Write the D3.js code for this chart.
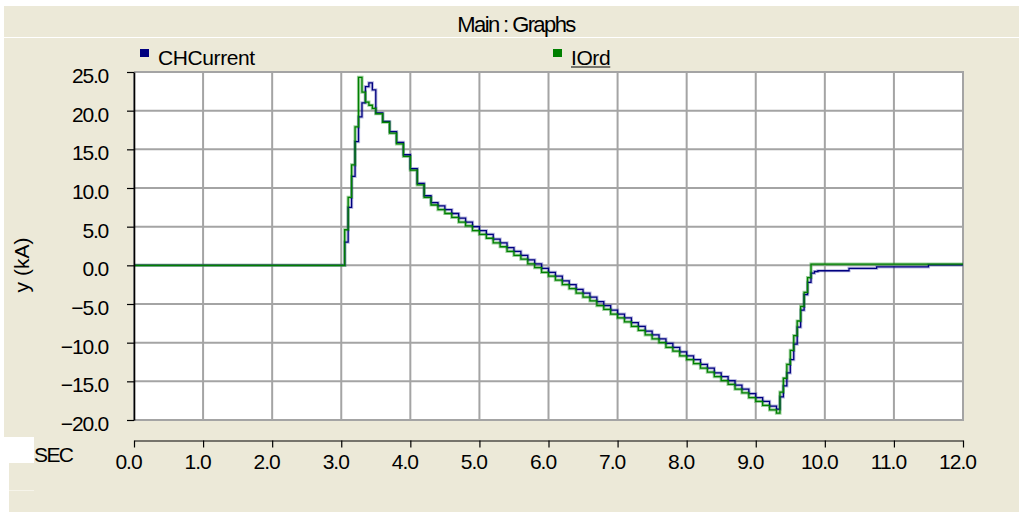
<!DOCTYPE html>
<html>
<head>
<meta charset="utf-8">
<script src="https://cdn.jsdelivr.net/npm/d3@7"></script>
<style>
  html, body { margin: 0; padding: 0; background: #ffffff; }
  svg { display: block; font-family: "Liberation Sans", Arial, sans-serif; }
</style>
</head>
<body>
<svg id="chart" width="1019" height="512"></svg>
<script>
// ---------------- data ----------------
const times = [
  0, 3.0, 3.05, 3.1, 3.15, 3.2, 3.25, 3.3, 3.35, 3.4, 3.45, 3.5,
  3.6, 3.7, 3.8, 3.9, 4.0, 4.1, 4.2, 4.3,
  4.4, 4.5, 4.6, 4.7, 4.8, 4.9, 5.0, 5.1, 5.2, 5.3, 5.4, 5.5, 5.6, 5.7, 5.8, 5.9,
  6.0, 6.1, 6.2, 6.3, 6.4, 6.5, 6.6, 6.7, 6.8, 6.9, 7.0, 7.1, 7.2, 7.3, 7.4, 7.5,
  7.6, 7.7, 7.8, 7.9, 8.0, 8.1, 8.2, 8.3, 8.4, 8.5, 8.6, 8.7, 8.8, 8.9, 9.0, 9.1,
  9.2, 9.3,
  9.35, 9.4, 9.45, 9.5, 9.55, 9.6, 9.65, 9.7, 9.75, 9.8, 9.85, 9.9,
  10.35, 10.75, 11.5, 12.0
];
const chCurrent = [
  0, 0, 3.0, 7.5, 11.5, 16.0, 19.2, 21.0, 23.1, 23.6, 22.7, 19.7,
  18.6, 17.3, 15.9, 14.3, 12.5, 10.6, 9.0, 8.1,
  7.7, 7.2, 6.7, 6.1, 5.6, 5.0, 4.5, 4.0, 3.4, 2.9, 2.3, 1.8, 1.3, 0.7, 0.2, -0.4,
  -0.9, -1.4, -2.0, -2.5, -3.1, -3.6, -4.1, -4.7, -5.2, -5.8, -6.3, -6.8, -7.4, -7.9, -8.5, -9.0,
  -9.5, -10.1, -10.6, -11.2, -11.7, -12.2, -12.8, -13.3, -13.9, -14.4, -14.9, -15.5, -16.0, -16.6, -17.1, -17.6,
  -18.2, -18.6,
  -17.0, -15.6, -13.9, -12.2, -10.2, -8.0, -5.8, -3.8, -2.2, -1.0, -0.8, -0.7,
  -0.4, -0.2, 0.05, 0.05
];
const iOrd = [
  0, 0, 4.6, 8.8, 13.0, 17.9, 24.3, 22.4, 21.1, 20.7, 20.3, 19.6,
  18.5, 17.1, 15.7, 14.1, 12.3, 10.4, 8.8, 7.8,
  7.2, 6.7, 6.2, 5.6, 5.1, 4.5, 4.0, 3.5, 2.9, 2.4, 1.8, 1.3, 0.8, 0.2, -0.3, -0.9,
  -1.4, -1.9, -2.5, -3.0, -3.6, -4.1, -4.6, -5.2, -5.7, -6.3, -6.8, -7.3, -7.9, -8.4, -9.0, -9.5,
  -10.0, -10.6, -11.1, -11.7, -12.2, -12.7, -13.3, -13.8, -14.4, -14.9, -15.4, -16.0, -16.5, -17.1, -17.6, -18.1,
  -18.7, -19.1,
  -16.4, -14.6, -12.8, -11.0, -9.1, -7.2, -5.3, -3.5, -1.6, 0.15, 0.15, 0.15,
  0.15, 0.15, 0.15, 0.15
];
const seriesNames = ["CHCurrent", "IOrd"];
const seriesColors = ["#000080", "#008000"];
const xTickValues = [0, 1, 2, 3, 4, 5, 6, 7, 8, 9, 10, 11, 12];
const yTickValues = [-20, -15, -10, -5, 0, 5, 10, 15, 20, 25];
const titleText = "Main : Graphs";
const yLabelText = "y (kA)";
const xLabelText = "SEC";

// ---------------- drawing ----------------
const svg = d3.select("#chart");
const beige = "#ece9d8";
const fmt = d3.format(".1f");

// panels
svg.append("rect").attr("x", 0).attr("y", 0).attr("width", 1019).attr("height", 512).attr("fill", "#ffffff");
svg.append("rect").attr("x", 4).attr("y", 6).attr("width", 1015).attr("height", 431).attr("fill", beige);
svg.append("rect").attr("x", 9).attr("y", 437).attr("width", 1010).attr("height", 75).attr("fill", beige);
svg.append("rect").attr("x", 0).attr("y", 437).attr("width", 34).attr("height", 26).attr("fill", "#ffffff");
svg.append("line").attr("x1", 4).attr("x2", 1019).attr("y1", 37.5).attr("y2", 37.5)
  .attr("stroke", "#ffffff").attr("stroke-width", 1);
svg.append("line").attr("x1", 9).attr("x2", 34).attr("y1", 490.5).attr("y2", 490.5)
  .attr("stroke", "#f6f4ea").attr("stroke-width", 1);

const x = d3.scaleLinear().domain([0, 12]).range([134, 963]);
const y = d3.scaleLinear().domain([-20, 25]).range([420, 72]);

// plot background
svg.append("rect").attr("x", x(0)).attr("y", y(25)).attr("width", x(12) - x(0)).attr("height", y(-20) - y(25))
  .attr("fill", "#ffffff");

// grid
const grid = svg.append("g").attr("stroke", "#a4a4a4").attr("stroke-width", 2);
grid.selectAll("line.v").data(xTickValues).join("line").attr("class", "v")
  .attr("x1", d => x(d)).attr("x2", d => x(d)).attr("y1", y(25)).attr("y2", y(-20));
grid.selectAll("line.h").data(yTickValues).join("line").attr("class", "h")
  .attr("x1", x(0)).attr("x2", x(12) + 1).attr("y1", d => y(d)).attr("y2", d => y(d));

// series
const pts = (vals) => times.map((t, i) => [t, vals[i]]);
const line = d3.line().x(d => x(d[0])).y(d => y(d[1])).curve(d3.curveStepAfter);
const data = [pts(chCurrent), pts(iOrd)];
const halo = ["rgba(60,60,170,0.35)", "rgba(40,150,40,0.45)"];
data.forEach((d, i) => {
  svg.append("path").datum(d).attr("d", line).attr("fill", "none")
    .attr("stroke", halo[i]).attr("stroke-width", 3.2);
});
data.forEach((d, i) => {
  svg.append("path").datum(d).attr("d", line).attr("fill", "none")
    .attr("stroke", seriesColors[i]).attr("stroke-width", 1.3);
});

// y axis
const yAxis = svg.append("g").attr("transform", `translate(${x(0)},0)`)
  .call(d3.axisLeft(y).tickValues(yTickValues).tickFormat(fmt).tickSize(7).tickSizeOuter(0).tickPadding(19));
yAxis.select(".domain").attr("stroke", "#000").attr("stroke-width", 1.6);
yAxis.selectAll(".tick line").attr("stroke", "#000").attr("stroke-width", 1.2);
yAxis.selectAll(".tick text").attr("fill", "#000").attr("font-size", 21).attr("dy", "0.5em")
  .attr("letter-spacing", -1.2).attr("font-family", "Liberation Sans, Arial, sans-serif");

// x axis (separate, below plot)
const xAxis = svg.append("g").attr("transform", "translate(0,440.5)")
  .call(d3.axisBottom(x).tickValues(xTickValues).tickFormat(fmt).tickSize(7).tickSizeOuter(0).tickPadding(6.5));
xAxis.select(".domain").attr("stroke", "#000").attr("stroke-width", 1.2);
xAxis.selectAll(".tick line").attr("stroke", "#000").attr("stroke-width", 1.2);
xAxis.selectAll(".tick text").attr("fill", "#000").attr("font-size", 21).attr("dx", -6)
  .attr("letter-spacing", -1).attr("font-family", "Liberation Sans, Arial, sans-serif");

// title
svg.append("text").attr("x", 516).attr("y", 32).attr("text-anchor", "middle")
  .attr("font-size", 22).attr("letter-spacing", -1.6).attr("fill", "#000").text(titleText);

// y label
svg.append("text").attr("transform", "translate(29,265) rotate(-90)").attr("text-anchor", "middle")
  .attr("font-size", 21).attr("fill", "#000").text(yLabelText);

// x label
svg.append("text").attr("x", 34).attr("y", 462).attr("font-size", 21).attr("letter-spacing", -1.6)
  .attr("fill", "#000").text(xLabelText);

// legend
const legendX = [140, 553];
seriesNames.forEach((name, i) => {
  svg.append("rect").attr("x", legendX[i]).attr("y", 49).attr("width", 9).attr("height", 8)
    .attr("fill", seriesColors[i]);
  const t = svg.append("text").attr("x", legendX[i] + 18).attr("y", 65).attr("font-size", 21)
    .attr("letter-spacing", -0.4).attr("fill", "#000").text(name);
  if (i === 1) {
    const w = t.node().getComputedTextLength();
    svg.append("line").attr("x1", legendX[i] + 18).attr("x2", legendX[i] + 18 + w)
      .attr("y1", 67).attr("y2", 67).attr("stroke", "#000").attr("stroke-width", 1);
  }
});
</script>
</body>
</html>
